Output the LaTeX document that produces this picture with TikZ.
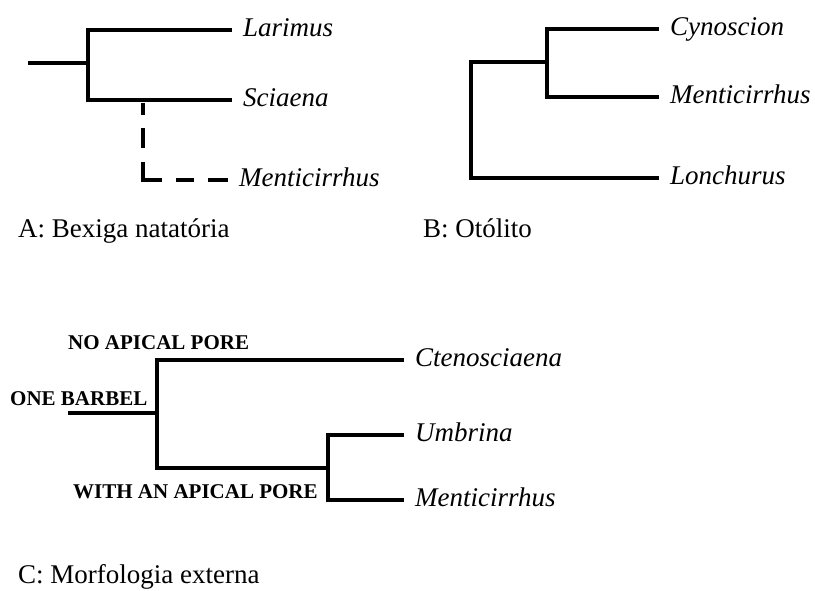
\documentclass[tikz,border=0pt]{standalone}
\usepackage{fontspec}
\setmainfont{Liberation Serif}[ItalicFont={Liberation Serif Italic}, BoldFont={Liberation Serif Bold}, BoldItalicFont={Liberation Serif Bold Italic}]
\begin{document}
\begin{tikzpicture}[x=1pt,y=-1pt,
  br/.style={line width=4.2pt},
  dbr/.style={line width=4.2pt, dash pattern=on 12pt off 13pt on 20pt off 14pt on 37pt off 14pt on 18pt off 14pt on 20pt off 40pt},
  taxon/.style={anchor=west, inner xsep=11pt, inner ysep=0pt, text height=18pt, text depth=6pt,
    font=\fontsize{27}{30}\selectfont\itshape},
  capt/.style={anchor=base west, inner sep=0pt, font=\fontsize{27}{30}\selectfont},
  trait/.style={anchor=base west, inner sep=0pt, font=\fontsize{21}{24}\selectfont\bfseries}]
\useasboundingbox (0,0) rectangle (815,590);

% ---------- A ----------
\node[taxon] (larimus) at (232,30) {Larimus};
\node[taxon] (sciaena) at (232,100) {Sciaena};
\node[taxon] (mentiA) at (228,180) {Menticirrhus};
\coordinate (aroot) at (28,63);
\coordinate (aN) at (88,63);
\coordinate (aT) at (88,30);
\coordinate (aB) at (88,100);
\coordinate (aD) at (143,103);
\coordinate (aDc) at (143,180);
\draw[br] (aroot) -- (aN);
\draw[br] (larimus.west) -- (aT) -- (aB) -- (sciaena.west);
\draw[dbr] (aD) -- (aDc) -- (mentiA.west);
\node[capt] (capA) at (18,237) {A: Bexiga natatória};

% ---------- B ----------
\node[taxon] (cyn) at (659,29) {Cynoscion};
\node[taxon] (mentiB) at (659,97) {Menticirrhus};
\node[taxon] (lon) at (659,178) {Lonchurus};
\coordinate (bT) at (547,29);
\coordinate (bB) at (547,97);
\coordinate (bN) at (547,62);
\coordinate (bR) at (471,62);
\coordinate (bRB) at (471,178);
\draw[br] (cyn.west) -- (bT) -- (bB) -- (mentiB.west);
\draw[br] (bN) -- (bR) -- (bRB) -- (lon.west);
\node[capt] (capB) at (423,237) {B: Otólito};

% ---------- C ----------
\node[taxon] (cten) at (404,360) {Ctenosciaena};
\node[taxon] (umb) at (404,435) {Umbrina};
\node[taxon] (mentiC) at (404,500) {Menticirrhus};
\coordinate (croot) at (68,413);
\coordinate (cN) at (157,413);
\coordinate (cT) at (157,360);
\coordinate (cB) at (157,468);
\coordinate (cI) at (328,468);
\coordinate (cIT) at (328,435);
\coordinate (cIB) at (328,500);
\draw[br] (croot) -- (cN);
\draw[br] (cten.west) -- (cT) -- (cB) -- (cI);
\draw[br] (umb.west) -- (cIT) -- (cIB) -- (mentiC.west);
\node[trait] (nopore) at (68,349) {NO APICAL PORE};
\node[trait] (barbel) at (10,405) {ONE BARBEL};
\node[trait] (pore) at (73,498) {WITH AN APICAL PORE};
\node[capt] (capC) at (18,583) {C: Morfologia externa};
\end{tikzpicture}
\end{document}
